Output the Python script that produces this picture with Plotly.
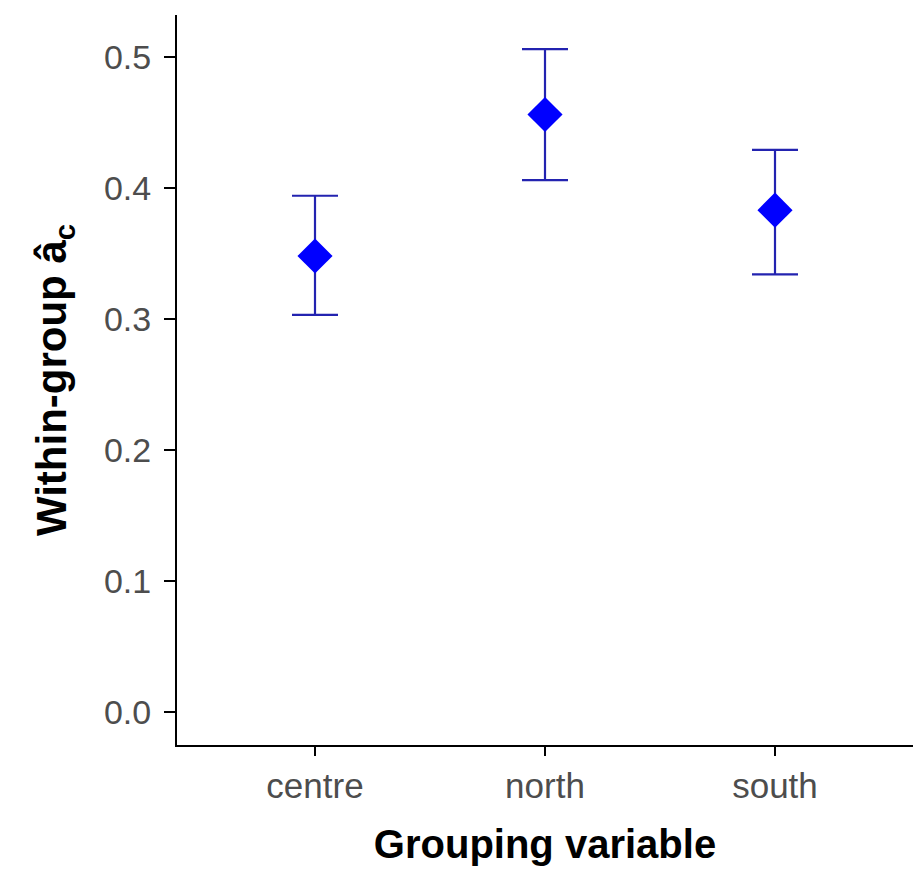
import plotly.graph_objects as go

groups = ["centre", "north", "south"]
estimate = [0.348, 0.456, 0.383]
lower = [0.303, 0.406, 0.334]
upper = [0.394, 0.506, 0.429]
y_ticks = [0.0, 0.1, 0.2, 0.3, 0.4, 0.5]

err_plus = [u - e for u, e in zip(upper, estimate)]
err_minus = [e - l for e, l in zip(estimate, lower)]

fig = go.Figure()
fig.add_trace(go.Scatter(
    x=groups, y=estimate, mode="markers",
    marker=dict(symbol="diamond", size=27, color="#0000ff"),
    error_y=dict(type="data", array=err_plus, arrayminus=err_minus,
                 color="#2323b0", thickness=2.2, width=23),
    showlegend=False,
))

fig.update_layout(
    width=913, height=869, autosize=False,
    margin=dict(l=177, r=0, t=15, b=124),
    plot_bgcolor="white", paper_bgcolor="white",
    font=dict(family="Liberation Sans, Arial, sans-serif"),
    xaxis=dict(
        type="category", range=[-0.6, 2.6],
        showline=True, linecolor="black", linewidth=2,
        ticks="outside", ticklen=9, tickwidth=1.5, tickcolor="black",
        tickfont=dict(size=35, color="#4d4d4d"),
        showgrid=False, zeroline=False,
        title=dict(text="<b>Grouping variable</b>", font=dict(size=40, color="black"), standoff=26),
    ),
    yaxis=dict(
        range=[-0.0253, 0.532],
        tickvals=y_ticks, ticktext=[f"{v:.1f}" for v in y_ticks],
        showline=True, linecolor="black", linewidth=2,
        ticks="outside", ticklen=11, tickwidth=1.5, tickcolor="black",
        ticklabelstandoff=6,
        tickfont=dict(size=34, color="#4d4d4d"),
        showgrid=False, zeroline=False,
        title=dict(text="<b>Within-group â<sub>c</sub></b>", font=dict(size=42, color="black"), standoff=24),
    ),
)

post = ("document.body.style.margin='0';document.body.style.overflow='hidden';"
        "var gd=document.getElementById('{plot_id}');"
        "Plotly.relayout(gd,{width:913,height:869});")
fig.write_html("out.html", config={"responsive": False, "displayModeBar": False}, post_script=post)
